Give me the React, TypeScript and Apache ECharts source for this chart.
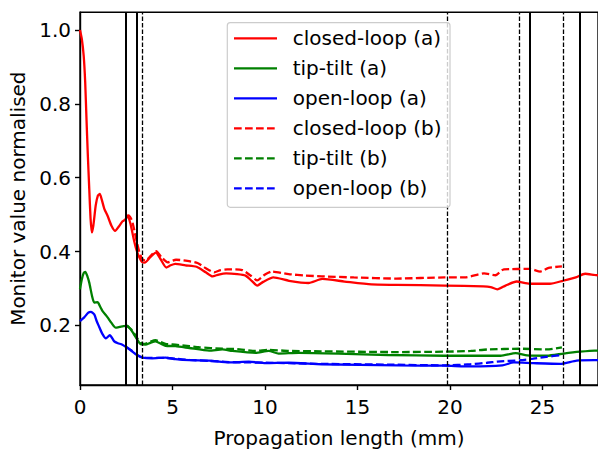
import React, { useEffect, useRef } from "react";
import * as echarts from "echarts";

const xTicks = [0, 5, 10, 15, 20, 25];
const yTicks = [0.2, 0.4, 0.6, 0.8, 1.0];

const closedLoopA: number[][] = [
  [0, 1.0], [0.1, 0.975], [0.2, 0.93], [0.28, 0.86], [0.35, 0.76], [0.42, 0.665], [0.5, 0.57], [0.57, 0.49],
  [0.64, 0.452], [0.72, 0.47], [0.85, 0.525], [0.97, 0.552], [1.07, 0.556], [1.18, 0.54], [1.32, 0.515],
  [1.49, 0.497], [1.7, 0.47], [1.9, 0.456], [2.1, 0.468], [2.3, 0.482], [2.45, 0.487], [2.58, 0.497],
  [2.74, 0.473], [2.9, 0.435], [3.05, 0.405], [3.2, 0.385], [3.35, 0.372], [3.5, 0.37], [3.8, 0.385],
  [4.1, 0.397], [4.35, 0.38], [4.66, 0.357], [4.9, 0.363], [5.15, 0.367], [5.7, 0.363], [6.3, 0.359],
  [6.8, 0.344], [7.16, 0.333], [7.5, 0.338], [7.9, 0.341], [8.5, 0.339], [8.95, 0.335], [9.3, 0.32],
  [9.58, 0.308], [9.9, 0.318], [10.45, 0.33], [11.3, 0.321], [12.35, 0.315], [13.1, 0.326], [14.3, 0.319],
  [15.75, 0.311], [17.1, 0.31], [19.7, 0.308], [21.8, 0.306], [22.2, 0.304], [22.56, 0.298], [23.0, 0.308],
  [23.6, 0.319], [24.3, 0.313], [25.4, 0.313], [26.1, 0.321], [26.8, 0.33], [27.3, 0.34], [27.8, 0.337], [28, 0.336],
];

const tipTiltA: number[][] = [
  [0, 0.298], [0.1, 0.325], [0.2, 0.342], [0.29, 0.345], [0.4, 0.333], [0.5, 0.316], [0.65, 0.28], [0.77, 0.262],
  [0.95, 0.263], [1.1, 0.25], [1.22, 0.239], [1.49, 0.222], [1.7, 0.207], [1.93, 0.194], [2.15, 0.196],
  [2.35, 0.198], [2.56, 0.199], [2.83, 0.183], [3.1, 0.161], [3.28, 0.149], [3.54, 0.148], [3.8, 0.153],
  [4.08, 0.157], [4.4, 0.15], [4.62, 0.145], [5.16, 0.144], [5.91, 0.139], [6.98, 0.132], [7.7, 0.135],
  [8.23, 0.131], [9.49, 0.126], [10.2, 0.131], [10.74, 0.124], [11.82, 0.126], [13.96, 0.124], [16.65, 0.12],
  [19.69, 0.118], [22.74, 0.118], [23.55, 0.125], [24.17, 0.119], [25.24, 0.118], [26.14, 0.124],
  [27.03, 0.129], [27.82, 0.132], [28, 0.132],
];

const openLoopA: number[][] = [
  [0, 0.212], [0.23, 0.222], [0.45, 0.235], [0.59, 0.237], [0.77, 0.23], [0.9, 0.212], [1.04, 0.196],
  [1.2, 0.178], [1.4, 0.165], [1.61, 0.174], [1.85, 0.157], [2.05, 0.152], [2.29, 0.148], [2.74, 0.133],
  [3.1, 0.119], [3.37, 0.113], [3.9, 0.111], [4.62, 0.113], [5.16, 0.109], [5.91, 0.106], [6.98, 0.105],
  [8.06, 0.1], [9.13, 0.102], [10.03, 0.098], [11.28, 0.099], [13.07, 0.095], [17.19, 0.092], [19.69, 0.091],
  [21.12, 0.089], [22.83, 0.092], [23.45, 0.1], [24.5, 0.098], [25.96, 0.096], [26.85, 0.105], [27.82, 0.106],
  [28, 0.106],
];

const closedLoopB: number[][] = [
  [2.5, 0.495], [2.62, 0.498], [2.8, 0.485], [2.95, 0.455], [3.1, 0.42], [3.25, 0.392], [3.4, 0.378],
  [3.55, 0.376], [3.85, 0.39], [4.12, 0.401], [4.4, 0.385], [4.74, 0.371], [5.19, 0.378], [5.8, 0.375],
  [6.35, 0.369], [6.8, 0.355], [7.25, 0.344], [7.6, 0.35], [7.96, 0.352], [8.77, 0.35], [9.2, 0.336],
  [9.58, 0.322], [10.0, 0.338], [10.38, 0.346], [11.28, 0.339], [12.2, 0.335], [13.07, 0.333], [14.8, 0.33],
  [17.1, 0.327], [19.7, 0.33], [20.8, 0.33], [21.84, 0.341], [22.46, 0.336], [22.91, 0.352], [24.34, 0.353],
  [24.88, 0.346], [25.33, 0.356], [26.05, 0.36],
];

const tipTiltB: number[][] = [
  [2.5, 0.2], [2.8, 0.188], [3.1, 0.165], [3.3, 0.153], [3.5, 0.15], [3.8, 0.156], [4.08, 0.16], [4.62, 0.15],
  [5.16, 0.148], [5.91, 0.144], [6.44, 0.141], [7.7, 0.137], [8.5, 0.136], [9.49, 0.131], [10.2, 0.134],
  [11.28, 0.131], [13.0, 0.13], [17.19, 0.128], [19.69, 0.129], [21.12, 0.131], [22.02, 0.135], [23.8, 0.137],
  [25.24, 0.135], [26.05, 0.141],
];

const openLoopB: number[][] = [
  [2.5, 0.142], [2.8, 0.132], [3.1, 0.12], [3.4, 0.113], [3.9, 0.112], [4.62, 0.112], [5.16, 0.11],
  [5.91, 0.107], [6.98, 0.104], [8.06, 0.101], [9.13, 0.1], [10.03, 0.099], [11.28, 0.098], [13.07, 0.096],
  [16.65, 0.094], [19.69, 0.092], [21.12, 0.095], [22.0, 0.099], [22.56, 0.102], [23.8, 0.106], [24.5, 0.11],
  [25.2, 0.115], [26.05, 0.12],
];

const solidMarkers = [2.47, 3.05, 24.32, 27.02];
const dashedMarkers = [3.38, 19.85, 23.75, 26.13];

const seriesNames = [
  "closed-loop (a)", "tip-tilt (a)", "open-loop (a)",
  "closed-loop (b)", "tip-tilt (b)", "open-loop (b)",
];
const seriesData = [closedLoopA, tipTiltA, openLoopA, closedLoopB, tipTiltB, openLoopB];
const seriesColors = ["#ff0000", "#008000", "#0000ff", "#ff0000", "#008000", "#0000ff"];
const seriesDashed = [false, false, false, true, true, true];

const FONT = "DejaVu Sans";
const DASH = [7.7, 3.3];

export default function App() {
  const ref = useRef<HTMLDivElement>(null);
  useEffect(() => {
    if (!ref.current) return;
    const chart = echarts.init(ref.current, null, { renderer: "svg" });

    const series: any[] = seriesNames.map((name, i) => ({
      name,
      type: "line",
      data: seriesData[i],
      symbol: "none",
      smooth: 0.2,
      z: 2,
      lineStyle: {
        color: seriesColors[i],
        width: 2.3,
        type: seriesDashed[i] ? DASH : "solid",
      },
    }));

    series.push({
      name: "markers",
      type: "line",
      data: [],
      symbol: "none",
      z: 3,
      markLine: {
        silent: true,
        symbol: ["none", "none"],
        label: { show: false },
        animation: false,
        data: [
          ...solidMarkers.map((v) => ({ xAxis: v, lineStyle: { color: "#000", width: 2, type: "solid" } })),
          ...dashedMarkers.map((v) => ({ xAxis: v, lineStyle: { color: "#000", width: 1.3, type: [4.5, 2] } })),
        ],
      },
    });

    const legendX = 227.3;
    const legendY = 22.7;
    const rowH = 30;
    const legendEls: any[] = [
      {
        type: "rect",
        shape: { x: legendX, y: legendY, width: 222.7, height: 184.6, r: 3 },
        style: { fill: "rgba(255,255,255,0.8)", stroke: "#cccccc", lineWidth: 1.2 },
        z: 100,
      },
    ];
    seriesNames.forEach((name, i) => {
      const cy = legendY + 15.6 + i * rowH;
      legendEls.push({
        type: "line",
        shape: { x1: 234, y1: cy, x2: 277, y2: cy },
        style: {
          stroke: seriesColors[i],
          lineWidth: 2.3,
          lineDash: seriesDashed[i] ? DASH : null,
        },
        z: 101,
      });
      legendEls.push({
        type: "text",
        x: 292.7,
        y: cy,
        style: {
          text: name,
          fill: "#000",
          fontSize: 20,
          fontFamily: FONT,
          verticalAlign: "middle",
          align: "left",
        },
        z: 101,
      });
    });

    chart.setOption({
      animation: false,
      grid: {
        left: 80,
        right: -2,
        top: 12.3,
        bottom: 52.7,
        show: true,
        borderColor: "#000",
        borderWidth: 1.4,
        backgroundColor: "transparent",
        containLabel: false,
      },
      xAxis: {
        type: "value",
        min: 0,
        max: 28,
        interval: 5,
        name: "Propagation length (mm)",
        nameLocation: "middle",
        nameGap: 43,
        nameTextStyle: { fontSize: 20, fontFamily: FONT, color: "#000" },
        axisLine: { show: true, onZero: false, lineStyle: { color: "#000", width: 1.4 } },
        axisTick: { show: true, inside: false, length: 5, lineStyle: { color: "#000", width: 1.4 }, customValues: xTicks },
        axisLabel: { fontSize: 20, fontFamily: FONT, color: "#000", margin: 12, customValues: xTicks },
        splitLine: { show: false },
      },
      yAxis: {
        type: "value",
        min: 0.0388,
        max: 1.048,
        name: "Monitor value normalised",
        nameLocation: "middle",
        nameGap: 42,
        nameTextStyle: { fontSize: 20, fontFamily: FONT, color: "#000" },
        axisLine: { show: true, onZero: false, lineStyle: { color: "#000", width: 1.4 } },
        axisTick: { show: true, inside: false, length: 5, lineStyle: { color: "#000", width: 1.4 }, customValues: yTicks },
        axisLabel: {
          fontSize: 20,
          fontFamily: FONT,
          color: "#000",
          margin: 9,
          customValues: yTicks,
          formatter: (v: number) => v.toFixed(1),
        },
        splitLine: { show: false },
      },
      series,
      graphic: legendEls,
    });

    return () => chart.dispose();
  }, []);

  return (
    <div
      ref={ref}
      style={{ position: "fixed", left: 0, top: 0, width: 598, height: 453, background: "#fff" }}
    />
  );
}
